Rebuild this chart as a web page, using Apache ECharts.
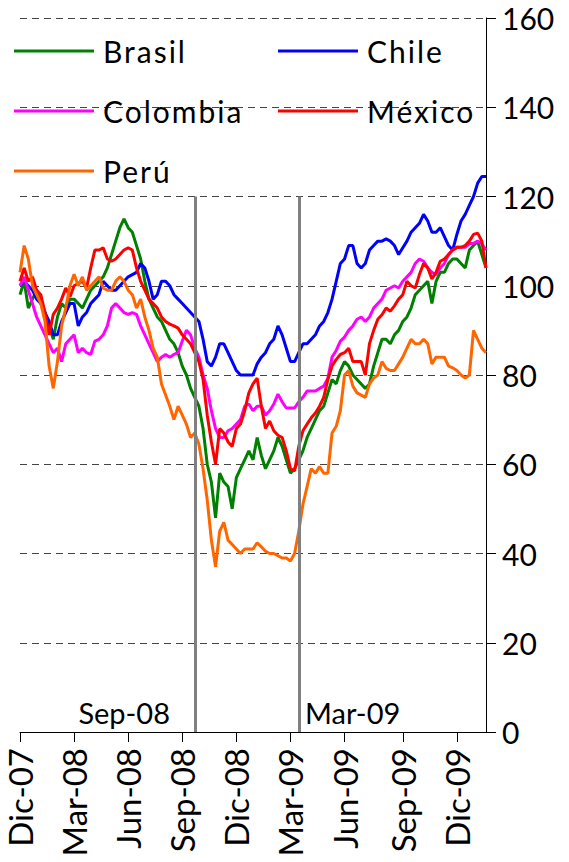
<!DOCTYPE html>
<html>
<head>
<meta charset="utf-8">
<script src="https://cdn.jsdelivr.net/npm/echarts@6/dist/echarts.min.js"></script>
<style>
  html, body { margin: 0; padding: 0; background: #fff; }
  #chart { width: 569px; height: 862px; }
</style>
</head>
<body>
<div id="chart"></div>
<script>
// weekly observations, Dec 2007 - Jan 2010 (index, base = 100)
const startDate = '2007-12-03'
const weekCount = 113
const monthNames = ['Ene', 'Feb', 'Mar', 'Abr', 'May', 'Jun', 'Jul', 'Ago', 'Sep', 'Oct', 'Nov', 'Dic']
const tickMonths = [2, 5, 8, 11]
const yTicks = { min: 0, max: 160, step: 20 }
const eventWeeks = ['2008-09-22', '2009-03-16']
const eventLabels = ['Sep-08', 'Mar-09']
const countries = ['Brasil', 'Chile', 'Colombia', 'México', 'Perú']

const brasil = [
  98, 101, 95, 97, 99, 97, 94, 91, 88, 93,
  96, 95, 97, 97, 96, 95, 97, 99, 100, 101,
  102, 104, 107, 110, 113, 115, 113, 112, 109, 106,
  101, 97, 95, 93, 92, 90, 88, 87, 85, 82,
  80, 77, 75, 73, 68, 60, 56, 48, 58, 56,
  55, 50, 57, 59, 61, 63, 61, 66, 62, 59,
  61, 63, 66, 64, 61, 58, 59, 61, 63, 66,
  68, 70, 72, 73, 76, 79, 78, 81, 83, 82,
  80, 79, 78, 77, 78, 82, 85, 88, 88, 87,
  89, 90, 92, 93, 95, 98, 99, 100, 101, 96,
  101, 103, 103, 105, 106, 106, 105, 104, 108, 109,
  110, 107, 104
]
const chile = [
  100, 101, 100, 99, 97, 96, 94, 92, 89, 89,
  92, 94, 96, 96, 91, 93, 94, 96, 97, 98,
  101, 100, 99, 99, 100, 101, 102, 102.5, 103, 105,
  104, 101, 97, 98, 101, 101, 100, 98, 97, 96,
  95, 94, 93, 92, 88, 83, 82, 84, 87, 87,
  85, 83, 81, 80, 80, 80, 80, 82.5, 84, 85,
  87, 88, 91, 89, 86, 83, 83, 85, 87, 87,
  88, 89, 91, 92, 94, 97, 101, 105, 106, 109,
  109, 105, 104, 105, 108, 109, 110, 110, 110.5, 110,
  109, 107, 108.5, 110, 112, 113, 114, 116, 114.5, 112,
  112, 113, 111, 109, 108, 111.5, 114.5, 116, 118, 120,
  123, 124.5, 124.5
]
const colombia = [
  100, 102, 99, 96, 93, 91, 89, 87, 85, 86,
  83, 87, 88, 89, 85, 86, 85, 84.6, 87.6, 88,
  89, 91, 95, 96, 95, 94, 93.6, 94, 93.6, 91,
  89, 87, 85, 83, 84, 84.6, 84, 84.6, 85, 87.6,
  90, 89, 86, 84, 80, 77, 72, 68, 66, 66,
  67.5, 68, 69, 70, 73, 73.5, 72, 73, 73, 71,
  72, 73.5, 75.7, 74, 72.6, 72.6, 72.6, 74, 75, 76.4,
  76.4, 76.4, 77, 77.5, 79.3, 84, 85.5, 87.6, 88.5, 90,
  91, 92.5, 93, 92, 93, 95, 96, 97, 99, 99.5,
  100, 99.5, 101, 102, 103, 105, 106, 105.5, 104, 103,
  102.5, 104, 105, 107, 108, 108.6, 108.6, 108.6, 109.4, 109.5,
  110, 109.4, 108
]
const mexico = [
  101, 104, 101, 102, 99, 98, 94, 89, 93.6, 95,
  97, 99.5, 97.5, 100, 100.5, 101, 99.5, 104, 108, 108,
  108.5, 106, 105.5, 106, 107, 108, 108.5, 108, 104, 101,
  99, 97, 96, 95, 93, 92, 91.4, 91, 90.5, 89,
  88, 87, 85, 83, 79, 71, 65, 60, 68, 67,
  65, 64, 68, 69, 72, 76, 78, 79.3, 73, 68,
  69.7, 67.5, 66.5, 66, 63, 59, 58.5, 64, 67.5, 69,
  70.4, 71.5, 73, 75, 79, 82, 83.5, 84.6, 85, 86,
  83, 83, 83, 80, 87, 90, 92.5, 93.5, 95, 94.3,
  95.5, 97, 98, 101, 100, 99.5, 102.5, 105, 104, 101.5,
  103, 105.5, 106, 107, 108, 108.6, 108.6, 109, 110, 111.5,
  111.8, 110, 104
]
const peru = [
  103, 109, 106, 100, 98, 96, 92, 82, 77, 83,
  91, 95, 100, 102.6, 100, 102, 99, 100, 101, 102,
  99.5, 99, 99, 101, 102, 101, 99, 98, 95, 97,
  93, 90, 86, 84, 78, 75.5, 73, 70, 73, 71,
  69, 66, 67, 64.5, 59, 52, 43, 37, 45, 47,
  43, 42, 41, 40, 41, 41, 41, 42.4, 41.5, 40.5,
  40, 40, 39.5, 39, 39, 38.3, 40, 45, 51, 55,
  59, 58, 59.5, 58, 58, 67, 68.5, 72, 80, 81,
  77.5, 76, 75.5, 75, 78, 79.3, 80, 83, 81.5, 81,
  81, 82.5, 84, 86, 88, 87, 87, 88, 87, 82.5,
  84, 84, 84, 82, 81.6, 81, 80, 79.3, 80, 90,
  88, 86, 85
]

// weekly category dates
const pad = n => (n < 10 ? '0' + n : '' + n)
const weeks = []
const d0 = new Date(startDate + 'T00:00:00Z')
for (let i = 0; i < weekCount; i++) {
  const d = new Date(d0.getTime() + i * 7 * 86400000)
  weeks.push(d.getUTCFullYear() + '-' + pad(d.getUTCMonth() + 1) + '-' + pad(d.getUTCDate()))
}

const isQuarterStart = (index, value) => {
  const day = +value.slice(8, 10)
  const month = +value.slice(5, 7) - 1
  return day <= 7 && tickMonths.indexOf(month) >= 0
}
const monthLabel = value => monthNames[+value.slice(5, 7) - 1] + '-' + value.slice(2, 4)

const font = 'Lato'

const chart = echarts.init(document.getElementById('chart'), null, { renderer: 'svg' })

const makeSeries = (name, data, color) => ({
  name,
  type: 'line',
  data,
  symbol: 'none',
  lineStyle: { color, width: 3 },
  itemStyle: { color },
  emphasis: { disabled: true }
})

const series = [
  makeSeries(countries[0], brasil, '#008000'),
  makeSeries(countries[1], chile, '#0000ff'),
  makeSeries(countries[2], colombia, '#ff00ff'),
  makeSeries(countries[3], mexico, '#ff0000'),
  makeSeries(countries[4], peru, '#ff6600')
]
// crisis markers drawn over the lines
series[4].markLine = {
  silent: true,
  symbol: 'none',
  label: { show: false },
  lineStyle: { color: '#808080', width: 3, type: 'solid' },
  data: eventWeeks.map(w => [{ coord: [w, 0] }, { coord: [w, 120] }])
}

const legendBase = {
  orient: 'vertical',
  top: 36,
  padding: 0,
  itemWidth: 80,
  itemHeight: 3,
  itemGap: 30,
  icon: 'rect',
  textStyle: { fontSize: 30, fontFamily: font, color: '#000', padding: [0, 0, 0, 4] }
}

const option = {
  animation: false,
  backgroundColor: '#fff',
  grid: { left: 20, right: 83, top: 18, bottom: 130 },
  legend: [
    Object.assign({}, legendBase, { left: 14, data: [countries[0], countries[2], countries[4]] }),
    Object.assign({}, legendBase, { left: 278, data: [countries[1], countries[3]] })
  ],
  xAxis: {
    type: 'category',
    data: weeks,
    boundaryGap: false,
    axisLine: { lineStyle: { color: '#000', width: 1 } },
    axisTick: { interval: isQuarterStart, length: 10, lineStyle: { color: '#000' } },
    axisLabel: {
      interval: isQuarterStart,
      rotate: 90,
      margin: 16,
      fontSize: 33,
      fontFamily: font,
      color: '#000',
      formatter: monthLabel
    },
    splitLine: { show: false }
  },
  yAxis: {
    type: 'value',
    position: 'right',
    min: yTicks.min,
    max: yTicks.max,
    interval: yTicks.step,
    axisLine: { show: true, lineStyle: { color: '#000', width: 1 } },
    axisTick: { show: true, length: 10, lineStyle: { color: '#000' } },
    axisLabel: { fontSize: 30, fontFamily: font, color: '#000', margin: 16 },
    splitLine: { lineStyle: { type: [7, 5], color: '#444', width: 1 } }
  },
  graphic: [
    { type: 'text', x: 170, y: 712, style: { text: eventLabels[0], font: '29px Lato', fill: '#000', align: 'right', verticalAlign: 'middle' } },
    { type: 'text', x: 305, y: 712, style: { text: eventLabels[1], font: '29px Lato', fill: '#000', align: 'left', verticalAlign: 'middle' } }
  ],
  series
}

chart.setOption(option)

// the legend of the original uses wide character spacing
const spaceLegend = () => {
  document.querySelectorAll('#chart svg text').forEach(t => {
    if (countries.indexOf(t.textContent) >= 0) t.setAttribute('letter-spacing', '2px')
  })
}
chart.on('finished', spaceLegend)
spaceLegend()
</script>
</body>
</html>
